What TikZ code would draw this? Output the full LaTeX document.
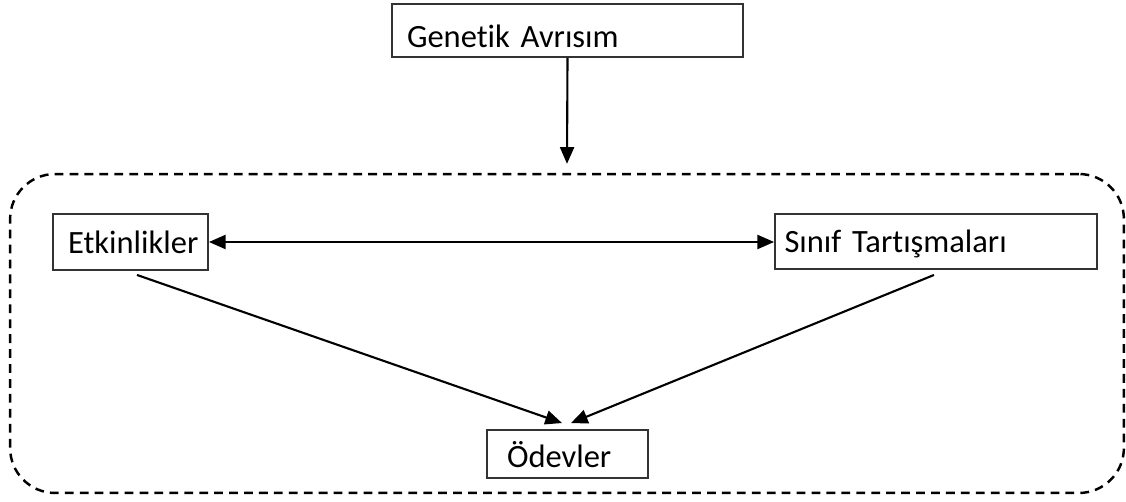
\documentclass[tikz,border=0pt]{standalone}
\usepackage{fontspec}
\setmainfont[Ligatures={NoCommon}, WordSpace=0.75]{Carlito}
\usetikzlibrary{arrows.meta}
\begin{document}
\begin{tikzpicture}[x=0.02cm, y=-0.02cm,
		kutu/.style={draw=black!80, line width=1.1pt, rectangle, align=left,
			inner xsep=0.3cm, inner ysep=0pt, text depth=0pt,
			font=\fontsize{18.5}{22}\selectfont},
		ucu/.tip={Triangle[length=9.5pt, width=8pt]},
		ok/.style={line width=1.2pt, -ucu},
		cerceve/.style={draw, dashed, dash pattern=on 5pt off 3.5pt, line width=1.4pt,
			rounded corners=0.9cm}]
		\useasboundingbox (0,0) rectangle (1126,502);
		
		% kesikli cerceve
		\node[cerceve, minimum width=22.28cm, minimum height=6.38cm] (grup) at (567,333.5) {};
		
		% kutular
		\node[kutu, text width=6.42cm, minimum height=1.06cm, text height=18.8pt] (genetik) at (567.5,30.5) {Genetik Avrısım};
		\node[kutu, text width=2.5cm, minimum height=1.12cm] (etk) at (130.5,242) {Etkinlikler};
		\node[kutu, text width=6.06cm, minimum height=1.1cm, inner xsep=0.19cm] (sinif) at (936,241.5) {Sınıf Tartışmaları};
		\node[kutu, text width=2.42cm, minimum height=0.96cm, inner xsep=0.4cm] (odev) at (567.5,454) {Ödevler};
		
		% oklar
		\draw[ok] (genetik.south) -- ([yshift=0.18cm]grup.north);
		\draw[ok, ucu-ucu] (etk.east) -- (etk.east -| sinif.west);
		\draw[ok] ([xshift=0.13cm, yshift=-0.08cm]etk.south) -- ([xshift=-0.11cm, yshift=0.12cm]odev.north);
		\draw[ok] ([xshift=-0.04cm, yshift=-0.1cm]sinif.south) -- ([xshift=0.07cm, yshift=0.12cm]odev.north);
	\end{tikzpicture}
\end{document}
